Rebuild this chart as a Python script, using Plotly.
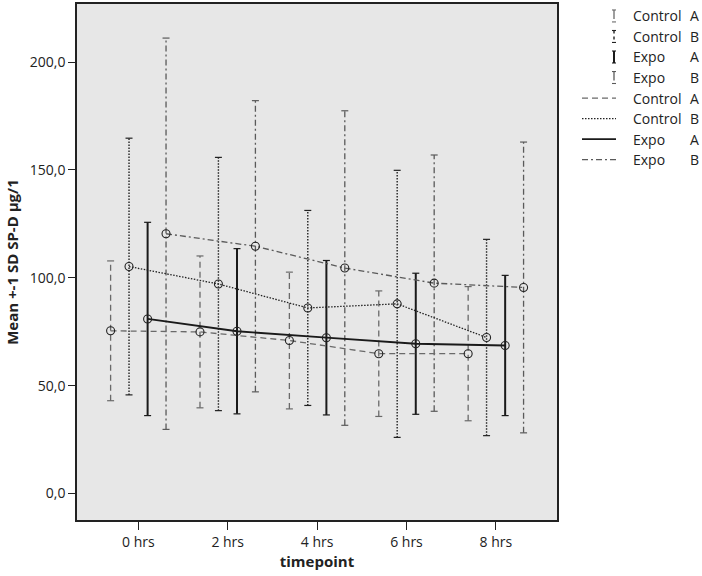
import numpy as np
import plotly.graph_objects as go

# ---- data ----
timepoints = ["0 hrs", "2 hrs", "4 hrs", "6 hrs", "8 hrs"]
series_names = ["Control", "Control", "Expo", "Expo"]
series_groups = ["A", "B", "A", "B"]

control_a_mean = [75.4, 74.9, 70.9, 64.8, 64.8]
control_a_sd = [32.4, 35.2, 31.7, 29.1, 31.1]
control_b_mean = [105.2, 97.1, 86.0, 87.9, 72.3]
control_b_sd = [59.5, 58.7, 45.2, 61.9, 45.5]
expo_a_mean = [80.9, 75.2, 72.2, 69.4, 68.6]
expo_a_sd = [44.8, 38.3, 35.8, 32.7, 32.5]
expo_b_mean = [120.4, 114.6, 104.5, 97.5, 95.5]
expo_b_sd = [90.7, 67.5, 72.9, 59.4, 67.4]

y_tick_values = [0, 50, 100, 150, 200]
y_tick_labels = ["0,0", "50,0", "100,0", "150,0", "200,0"]

# ---- styles ----
means = [control_a_mean, control_b_mean, expo_a_mean, expo_b_mean]
sds = [control_a_sd, control_b_sd, expo_a_sd, expo_b_sd]
offsets = [-0.31, -0.104, 0.104, 0.31]
colors = ["#6a6a6a", "#222222", "#1a1a1a", "#5a5a5a"]
dashes = ["6px,4px", "1.5px,1.5px", "solid", "6px,3px,2px,3px"]
line_widths = [1.3, 1.3, 1.8, 1.3]
bar_widths = [1.3, 1.4, 2.0, 1.3]

W, H = 702, 576
L, R, T, B = 77, 557, 2, 520

fig = go.Figure()
idx = np.arange(len(timepoints))

# error bars (drawn as dashed segments)
for k in range(4):
    m = np.array(means[k]); s = np.array(sds[k])
    xs = idx + offsets[k]
    lo = m - s; hi = m + s
    xseg, yseg = [], []
    for xi, a, b in zip(xs, lo, hi):
        xseg += [xi, xi, None]
        yseg += [a, b, None]
    fig.add_trace(go.Scatter(x=xseg, y=yseg, mode="lines", showlegend=False,
                             line=dict(color=colors[k], width=bar_widths[k], dash=dashes[k]),
                             hoverinfo="skip"))
    fig.add_trace(go.Scatter(x=np.concatenate([xs, xs]), y=np.concatenate([lo, hi]),
                             mode="markers", showlegend=False, hoverinfo="skip",
                             marker=dict(symbol="line-ew", size=5,
                                         line=dict(color=colors[k], width=1.2))))

# mean lines
for k in range(4):
    xs = idx + offsets[k]
    fig.add_trace(go.Scatter(x=xs, y=means[k], mode="lines+markers", showlegend=False,
                             line=dict(color=colors[k], width=line_widths[k], dash=dashes[k]),
                             marker=dict(symbol="circle-open", size=8,
                                         color="#222222", line=dict(width=1.1, color="#222222"))))

# custom legend
def px_x(p):
    return (p - L) / (R - L)

def px_y(p):
    return (B - p) / (B - T)

shapes = []
annotations = []
for i in range(8):
    yc = 14 + 20.6 * i
    k = i % 4
    if i < 4:
        shapes.append(dict(type="line", xref="paper", yref="paper",
                           x0=px_x(614), x1=px_x(614), y0=px_y(yc - 6), y1=px_y(yc + 6),
                           line=dict(color=colors[k], width=bar_widths[k],
                                     dash=["dash", "dot", "solid", "dashdot"][k])))
        for yy in (yc - 6, yc + 6):
            shapes.append(dict(type="line", xref="paper", yref="paper",
                               x0=px_x(612), x1=px_x(616), y0=px_y(yy), y1=px_y(yy),
                               line=dict(color=colors[k], width=1.1)))
    else:
        shapes.append(dict(type="line", xref="paper", yref="paper",
                           x0=px_x(582), x1=px_x(616), y0=px_y(yc), y1=px_y(yc),
                           line=dict(color=colors[k], width=line_widths[k], dash=dashes[k])))
    annotations.append(dict(xref="paper", yref="paper", x=px_x(631), y=px_y(yc),
                            text=series_names[k], showarrow=False, xanchor="left",
                            yanchor="middle", font=dict(size=14, color="#222222")))
    annotations.append(dict(xref="paper", yref="paper", x=px_x(688), y=px_y(yc),
                            text=series_groups[k], showarrow=False, xanchor="left",
                            yanchor="middle", font=dict(size=14, color="#222222")))

fig.update_layout(
    width=W, height=H,
    margin=dict(l=L, r=W - R, t=T, b=H - B, pad=0),
    paper_bgcolor="white", plot_bgcolor="#e7e7e7",
    font=dict(family="Open Sans", size=14, color="#222222"),
    separators=",.",
    shapes=shapes, annotations=annotations,
    showlegend=False,
)
fig.update_xaxes(range=[-0.686, 4.684], tickvals=list(idx), ticktext=timepoints,
                 showgrid=False, zeroline=False, showline=True, mirror=True,
                 linecolor="#222222", linewidth=1.5, ticks="outside", ticklen=8,
                 tickcolor="#222222", tickfont=dict(size=14),
                 title=dict(text="<b>timepoint</b>", font=dict(size=15), standoff=7))
fig.update_yaxes(range=[-12.3, 226.9], tickvals=y_tick_values, ticktext=y_tick_labels,
                 showgrid=False, zeroline=False, showline=True, mirror=True,
                 linecolor="#222222", linewidth=1.5, ticks="outside", ticklen=7,
                 tickcolor="#222222", tickfont=dict(size=14),
                 title=dict(text="<b>Mean +-1 SD SP-D µg/1</b>", font=dict(size=15), standoff=8))

fig.write_html("out.html", config={"displayModeBar": False},
               post_script="document.body.style.margin='0';document.body.style.overflow='hidden';")
